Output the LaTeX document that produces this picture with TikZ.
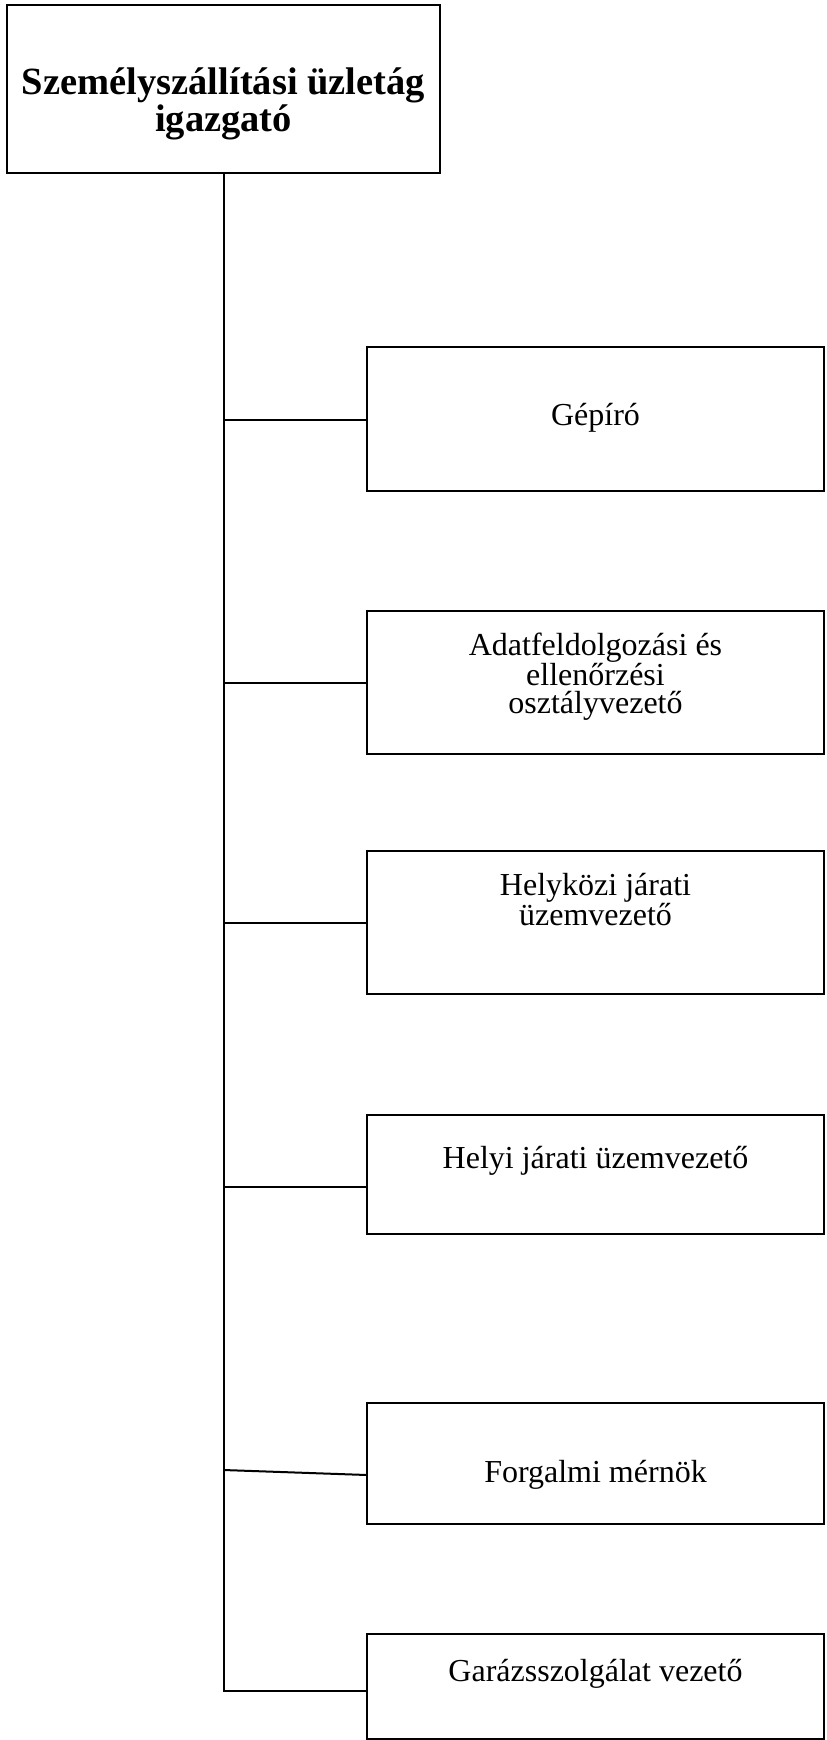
\documentclass[tikz,border=0pt]{standalone}
\usepackage{fontspec}
\setmainfont{Liberation Serif}
\begin{document}
\begin{tikzpicture}[x=1pt,y=-1pt,
  line width=2pt,
  orgbox/.style={draw=black, rectangle, inner sep=0pt},
  subbox/.style={orgbox, minimum width=457pt},
  headtext/.style={anchor=base, align=center, inner sep=0pt,
    font=\fontsize{38.5pt}{33.5pt}\selectfont\bfseries},
  subtext/.style={anchor=base, align=center, inner sep=0pt,
    font=\fontsize{32pt}{27.5pt}\selectfont},
  link/.style={draw=black, line width=2pt}]
  % page frame
  \useasboundingbox (0,0) rectangle (827,1740);

  % director box (multi-line texts are placed by the baseline of their last line)
  \node[orgbox, minimum width=433pt, minimum height=168pt] (dir) at (223.5,89) {};
  \node[headtext] (dirT) at (223.5,131) {Személyszállítási üzletág\\igazgató};

  % subordinate boxes
  \node[subbox, minimum height=144pt] (gep) at (595.5,419) {};
  \node[subtext] (gepT) at (595.5,425) {Gépíró};

  \node[subbox, minimum height=143pt] (adat) at (595.5,682.5) {};
  \node[subtext] (adatT) at (595.5,713) {Adatfeldolgozási és\\ellenőrzési\\osztályvezető};

  \node[subbox, minimum height=143pt] (hkoz) at (595.5,922.5) {};
  \node[subtext] (hkozT) at (595.5,925.5) {Helyközi járati\\üzemvezető};

  \node[subbox, minimum height=119pt] (hely) at (595.5,1174.5) {};
  \node[subtext] (helyT) at (595.5,1168) {Helyi járati üzemvezető};

  \node[subbox, minimum height=121pt] (forg) at (595.5,1463.5) {};
  \node[subtext] (forgT) at (595.5,1482) {Forgalmi mérnök};

  \node[subbox, minimum height=105pt] (gar) at (595.5,1686.5) {};
  \node[subtext] (garT) at (595.5,1681) {Garázsszolgálat vezető};

  % branch points on the trunk and their ends on the boxes
  \coordinate (tGep)  at (223.5,420);
  \coordinate (tAdat) at (223.5,683);
  \coordinate (tHkoz) at (223.5,923);
  \coordinate (tHely) at (223.5,1187);
  \coordinate (tForg) at (223.5,1470);
  \coordinate (eForg) at (367,1475);
  \coordinate (tGar)  at (223.5,1691);

  % trunk and the bottom branch
  \draw[link] (dir.south) -- (tGar) -- (tGar -| gar.west);

  % side branches
  \draw[link] (tGep)  -- (tGep -| gep.west);
  \draw[link] (tAdat) -- (tAdat -| adat.west);
  \draw[link] (tHkoz) -- (tHkoz -| hkoz.west);
  \draw[link] (tHely) -- (tHely -| hely.west);
  \draw[link] (tForg) -- (eForg);
\end{tikzpicture}
\end{document}
